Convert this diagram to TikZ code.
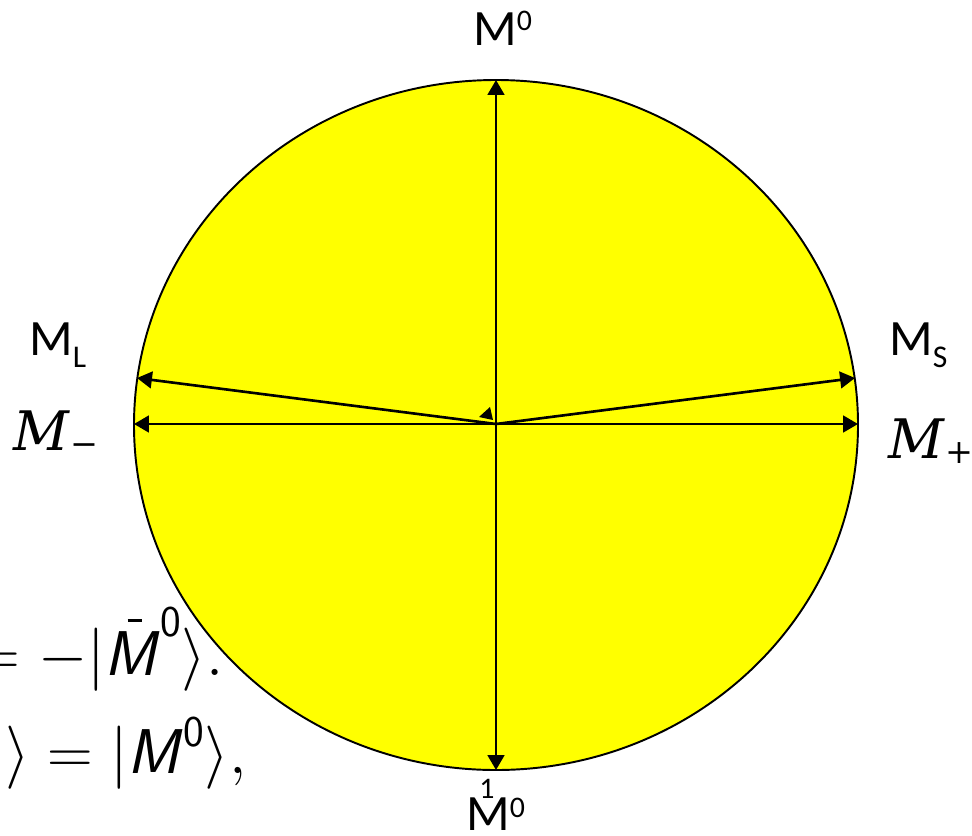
\RequirePackage{fix-cm}
\documentclass[tikz,border=0pt]{standalone}
\usepackage{fontspec}
\setmainfont{Carlito}
\newfontfamily\slotfont{DejaVu Serif}
\usetikzlibrary{arrows.meta}
\definecolor{discyellow}{RGB}{255,255,0}

\newcommand{\upidx}[2][8.5pt]{\raisebox{#1}{\fontsize{17}{17}\selectfont #2}}
\newcommand{\dnidx}[1]{\raisebox{-7pt}{\fontsize{18}{18}\selectfont #1}}
\newcommand{\sM}{\mathord{\hbox{\sffamily\itshape M\/}}}
\newcommand{\sMbar}{\mathord{\hbox{\rlap{\kern13pt\rule[30pt]{8pt}{1.6pt}}\sffamily\itshape M\/}}}
\newcommand{\sz}{\hbox{\fontsize{25}{25}\selectfont\sffamily 0}}
\newcommand{\eigM}[1]{{\itshape M}\kern1pt\raisebox{-3pt}{\fontsize{19}{19}\selectfont\upshape #1}}

\begin{document}
\begin{tikzpicture}[x=0.02cm,y=-0.02cm,
  vec/.style={line width=1.5pt,-{Triangle[length=8.5pt,width=9.5pt]}},
  lbl/.style={inner sep=0pt,anchor=base west,font=\fontsize{29}{29}\selectfont},
  mlbl/.style={inner sep=0pt,anchor=base west,font=\fontsize{31}{31}\selectfont\slotfont},
  frag/.style={inner sep=0pt,anchor=base east,font=\fontsize{36}{36}\selectfont}]
\useasboundingbox (0,0) rectangle (972,835);
% \draw [help lines,color=green] (0,0) grid[step=50] (972,835);
% text lying behind the disc
\node[frag] (lineA) at (224,675) {$=-|\sMbar^{\sz}\rangle.$};
\node[frag] (lineB) at (247,773) {$\rangle=|\sM^{\sz}\rangle,$};
\node[frag] (lineC) at (12,865) {$\rangle$};
% the disc
\draw [fill=discyellow, line width=1.1pt] (496,425) ellipse [x radius=362, y radius=345];
\coordinate (O) at (496,424);
\coordinate (top) at (496,80);
\coordinate (bot) at (496,770);
\coordinate (west) at (134,424);
\coordinate (east) at (858,424);
\coordinate (long) at (137,378);
\coordinate (short) at (855,378);
\draw [vec] (O) -- (top);
\draw [vec] (O) -- (bot);
\draw [vec] (O) -- (west);
\draw [vec] (O) -- (east);
\draw [vec] (O) -- (long);
\draw [vec] (O) -- (short);
\fill (490,407) -- (479,417) -- (493,420) -- cycle;
% labels
\node[lbl] (Mtop) at (473,45) {M\upidx{0}};
\node[lbl] (Mbot) at (466,830) {M\upidx[7.4pt]{0}};
\node[inner sep=0pt,anchor=base west,font=\fontsize{17}{17}\selectfont] (one) at (479,798) {1};
\node[lbl] (ML) at (29,355) {M\dnidx{L}};
\node[lbl] (MS) at (889,355) {M\dnidx{S}};
\node[mlbl] (Mminus) at (13,450) {\eigM{−}};
\node[mlbl] (Mplus) at (888,458) {\eigM{+}};
\end{tikzpicture}
\end{document}
